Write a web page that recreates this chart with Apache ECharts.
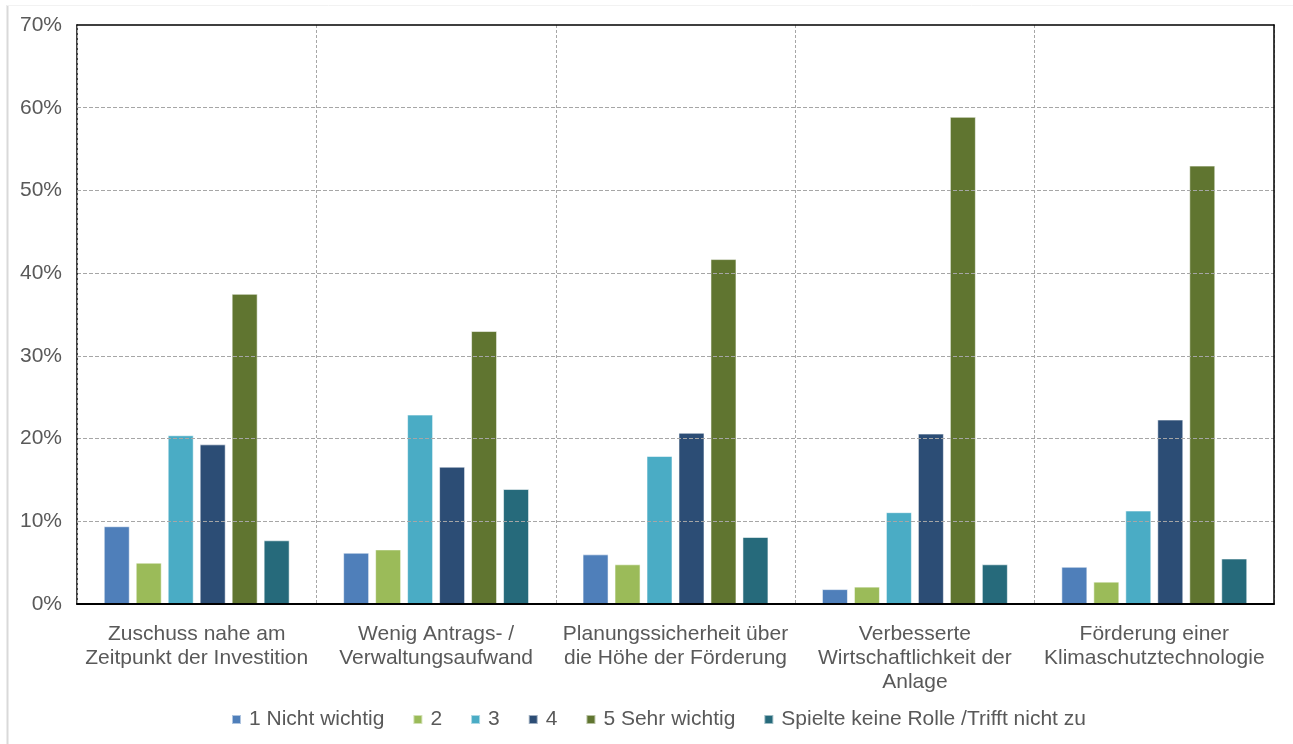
<!DOCTYPE html>
<html>
<head>
<meta charset="utf-8">
<script src="https://cdn.jsdelivr.net/npm/echarts@6/dist/echarts.min.js"></script>
<style>
  html, body { margin: 0; padding: 0; background: #fff; }
  #chart { width: 1293px; height: 744px; }
</style>
</head>
<body>
<div id="chart"></div>
<script>
// Categories (reasons for funding importance)
const categories = [
  'Zuschuss nahe am\nZeitpunkt der Investition',
  'Wenig Antrags- /\nVerwaltungsaufwand',
  'Planungssicherheit über\ndie Höhe der Förderung',
  'Verbesserte\nWirtschaftlichkeit der\nAnlage',
  'Förderung einer\nKlimaschutztechnologie'
];

// Rating levels (legend entries)
const seriesNames = ['1 Nicht wichtig', '2', '3', '4', '5 Sehr wichtig', 'Spielte keine Rolle /Trifft nicht zu'];

// Shares in percent per rating level, one value per category
const nichtWichtig = [9.4, 6.2, 6.0, 1.8, 4.5];
const stufe2       = [5.0, 6.6, 4.8, 2.1, 2.7];
const stufe3       = [20.4, 22.9, 17.9, 11.1, 11.3];
const stufe4       = [19.3, 16.6, 20.7, 20.6, 22.3];
const sehrWichtig  = [37.5, 33.0, 41.7, 58.9, 53.0];
const keineRolle   = [7.7, 13.9, 8.1, 4.8, 5.5];

// Y-axis ticks
const yMin = 0, yMax = 70, yStep = 10;

const colors = ['#4f7fba', '#9bbb59', '#4aacc5', '#2c4d75', '#607530', '#266a7b'];
const values = [nichtWichtig, stufe2, stufe3, stufe4, sehrWichtig, keineRolle];

const textColor = '#595959';
const fontFamily = 'Liberation Sans, Arial, sans-serif';
const fontSize = 21;

const chart = echarts.init(document.getElementById('chart'));
chart.setOption({
  animation: false,
  color: colors,
  textStyle: { fontFamily: fontFamily },
  grid: { left: 77, right: 19, top: 25, bottom: 140, containLabel: false },
  legend: {
    bottom: 9,
    left: 226,
    itemWidth: 9,
    itemHeight: 9,
    itemGap: 28,
    icon: 'rect',
    textStyle: { color: textColor, fontSize: fontSize, fontFamily: fontFamily, padding: [0, 0, 0, 3] },
    data: seriesNames
  },
  xAxis: [{
    type: 'category',
    data: categories,
    z: 5,
    axisLine: { show: true, lineStyle: { color: '#000', width: 2 } },
    axisTick: { show: false },
    splitLine: { show: true, lineStyle: { color: '#a6a6a6', type: [3, 2], width: 1 } },
    axisLabel: { interval: 0, color: textColor, fontSize: fontSize, lineHeight: 24, margin: 18, fontFamily: fontFamily }
  }, {
    // top frame edge
    type: 'category',
    data: categories,
    position: 'top',
    z: 6,
    axisLine: { show: true, onZero: false, lineStyle: { color: '#000', width: 1.5 } },
    axisTick: { show: false },
    axisLabel: { show: false },
    splitLine: { show: false }
  }],
  yAxis: [{
    type: 'value',
    min: yMin,
    max: yMax,
    interval: yStep,
    z: 4,
    axisLine: { show: true, lineStyle: { color: '#000', width: 1.5 } },
    axisTick: { show: false },
    splitLine: { show: true, showMaxLine: false, showMinLine: false, lineStyle: { color: '#a6a6a6', type: [4, 2], width: 1 } },
    axisLabel: { formatter: '{value}%', color: textColor, fontSize: fontSize, margin: 15, fontFamily: fontFamily }
  }, {
    // right frame edge
    type: 'value',
    position: 'right',
    min: yMin,
    max: yMax,
    interval: yStep,
    z: 5,
    axisLine: { show: true, onZero: false, lineStyle: { color: '#000', width: 1.5 } },
    axisTick: { show: false },
    axisLabel: { show: false },
    splitLine: { show: false }
  }],
  graphic: [
    { type: 'line', shape: { x1: 7.5, y1: 5, x2: 7.5, y2: 744 }, style: { stroke: '#d9d9d9', lineWidth: 2 } },
    { type: 'line', shape: { x1: 7, y1: 5.5, x2: 1293, y2: 5.5 }, style: { stroke: '#f2f2f2', lineWidth: 1 } }
  ],
  series: seriesNames.map((name, i) => ({
    name: name,
    type: 'bar',
    data: values[i],
    barWidth: 26,
    barGap: '23%',
    itemStyle: { color: colors[i], borderColor: 'rgba(255,255,255,0.55)', borderWidth: 1 }
  }))
});
</script>
</body>
</html>
